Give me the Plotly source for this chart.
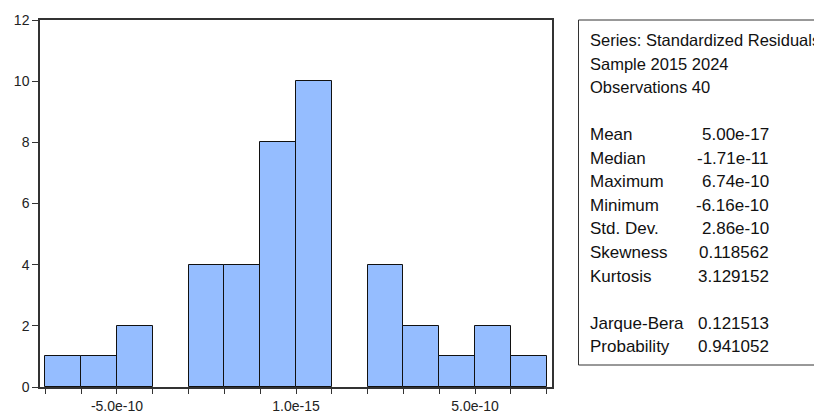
import plotly.graph_objects as go

# ---- data ----
bin_centers = [-6.5e-10, -5.5e-10, -4.5e-10, -3.5e-10, -2.5e-10, -1.5e-10, -0.5e-10,
               0.5e-10, 1.5e-10, 2.5e-10, 3.5e-10, 4.5e-10, 5.5e-10, 6.5e-10]
counts = [1, 1, 2, 0, 4, 4, 8, 10, 0, 4, 2, 1, 2, 1]
bin_width = 1e-10
x_tick_vals = [-7e-10, -6e-10, -5e-10, -4e-10, -3e-10, -2e-10, -1e-10, 0.0,
               1e-10, 2e-10, 3e-10, 4e-10, 5e-10, 6e-10, 7e-10]
x_tick_text = ["", "", "-5.0e-10", "", "", "", "", "1.0e-15",
               "", "", "", "", "5.0e-10", "", ""]
y_tick_vals = [0, 2, 4, 6, 8, 10, 12]

header_lines = ["Series: Standardized Residuals", "Sample 2015 2024", "Observations 40"]
stat_labels = ["Mean", "Median", "Maximum", "Minimum", "Std. Dev.", "Skewness", "Kurtosis"]
stat_values = ["5.00e-17", "-1.71e-11", "6.74e-10", "-6.16e-10", "2.86e-10", "0.118562", "3.129152"]
test_labels = ["Jarque-Bera", "Probability"]
test_values = ["0.121513", "0.941052"]

# ---- layout geometry (pixels) ----
W, H = 814, 415
L, R, T, B = 40, 552, 20, 387
FONT = "Liberation Sans, Arial, sans-serif"


def px_x(p):
    return (p - L) / (R - L)


def px_y(p):
    return (B - p) / (B - T)


fig = go.Figure()
fig.add_trace(go.Bar(
    x=bin_centers, y=counts, width=bin_width,
    marker=dict(color="#95BDFF",
                line=dict(color="#111111", width=[1 if c > 0 else 0 for c in counts])),
    hoverinfo="x+y", showlegend=False,
))

fig.update_layout(
    width=W, height=H,
    margin=dict(l=L, r=W - R, t=T, b=H - B, pad=0, autoexpand=False),
    paper_bgcolor="white", plot_bgcolor="white",
    font=dict(family=FONT, size=14, color="#222222"),
    bargap=0,
    xaxis=dict(
        range=[-7.15e-10, 7.15e-10], automargin=False,
        tickmode="array", tickvals=x_tick_vals, ticktext=x_tick_text,
        ticks="outside", ticklen=5, tickwidth=1, tickcolor="#333333",
        showgrid=False, zeroline=False,
        showline=True, linecolor="#333333", linewidth=1.5, mirror=True,
        tickfont=dict(size=14),
    ),
    yaxis=dict(
        range=[0, 12], automargin=False,
        tickmode="array", tickvals=y_tick_vals,
        ticks="outside", ticklen=6, tickwidth=1, tickcolor="#333333",
        showgrid=False, zeroline=False,
        showline=True, linecolor="#333333", linewidth=1.5, mirror=True,
        tickfont=dict(size=14),
    ),
)

# statistics box
fig.add_shape(type="rect", xref="paper", yref="paper",
              x0=px_x(578.5), x1=px_x(830), y0=px_y(365), y1=px_y(20),
              line=dict(color="#333333", width=1), fillcolor="white", layer="above")

LINE_H = 23.6
TOP_Y = 40
LABEL_X = 588
VALUE_X = 771


def add_text(text, row, xpx, anchor, size=17):
    fig.add_annotation(text=text, xref="paper", yref="paper",
                       x=px_x(xpx), y=px_y(TOP_Y + LINE_H * row),
                       xanchor=anchor, yanchor="middle", showarrow=False,
                       font=dict(family=FONT, size=size, color="#111111"))


row = 0
for line in header_lines:
    add_text(line, row, LABEL_X, "left", 16.5)
    row += 1
row += 1
for lab, val in zip(stat_labels, stat_values):
    add_text(lab, row, LABEL_X, "left")
    add_text(val, row, VALUE_X, "right")
    row += 1
row += 1
for lab, val in zip(test_labels, test_values):
    add_text(lab, row, LABEL_X, "left")
    add_text(val, row, VALUE_X, "right")
    row += 1

fig.write_html("out.html", config={"displayModeBar": False},
               post_script="document.body.style.margin='0';")
